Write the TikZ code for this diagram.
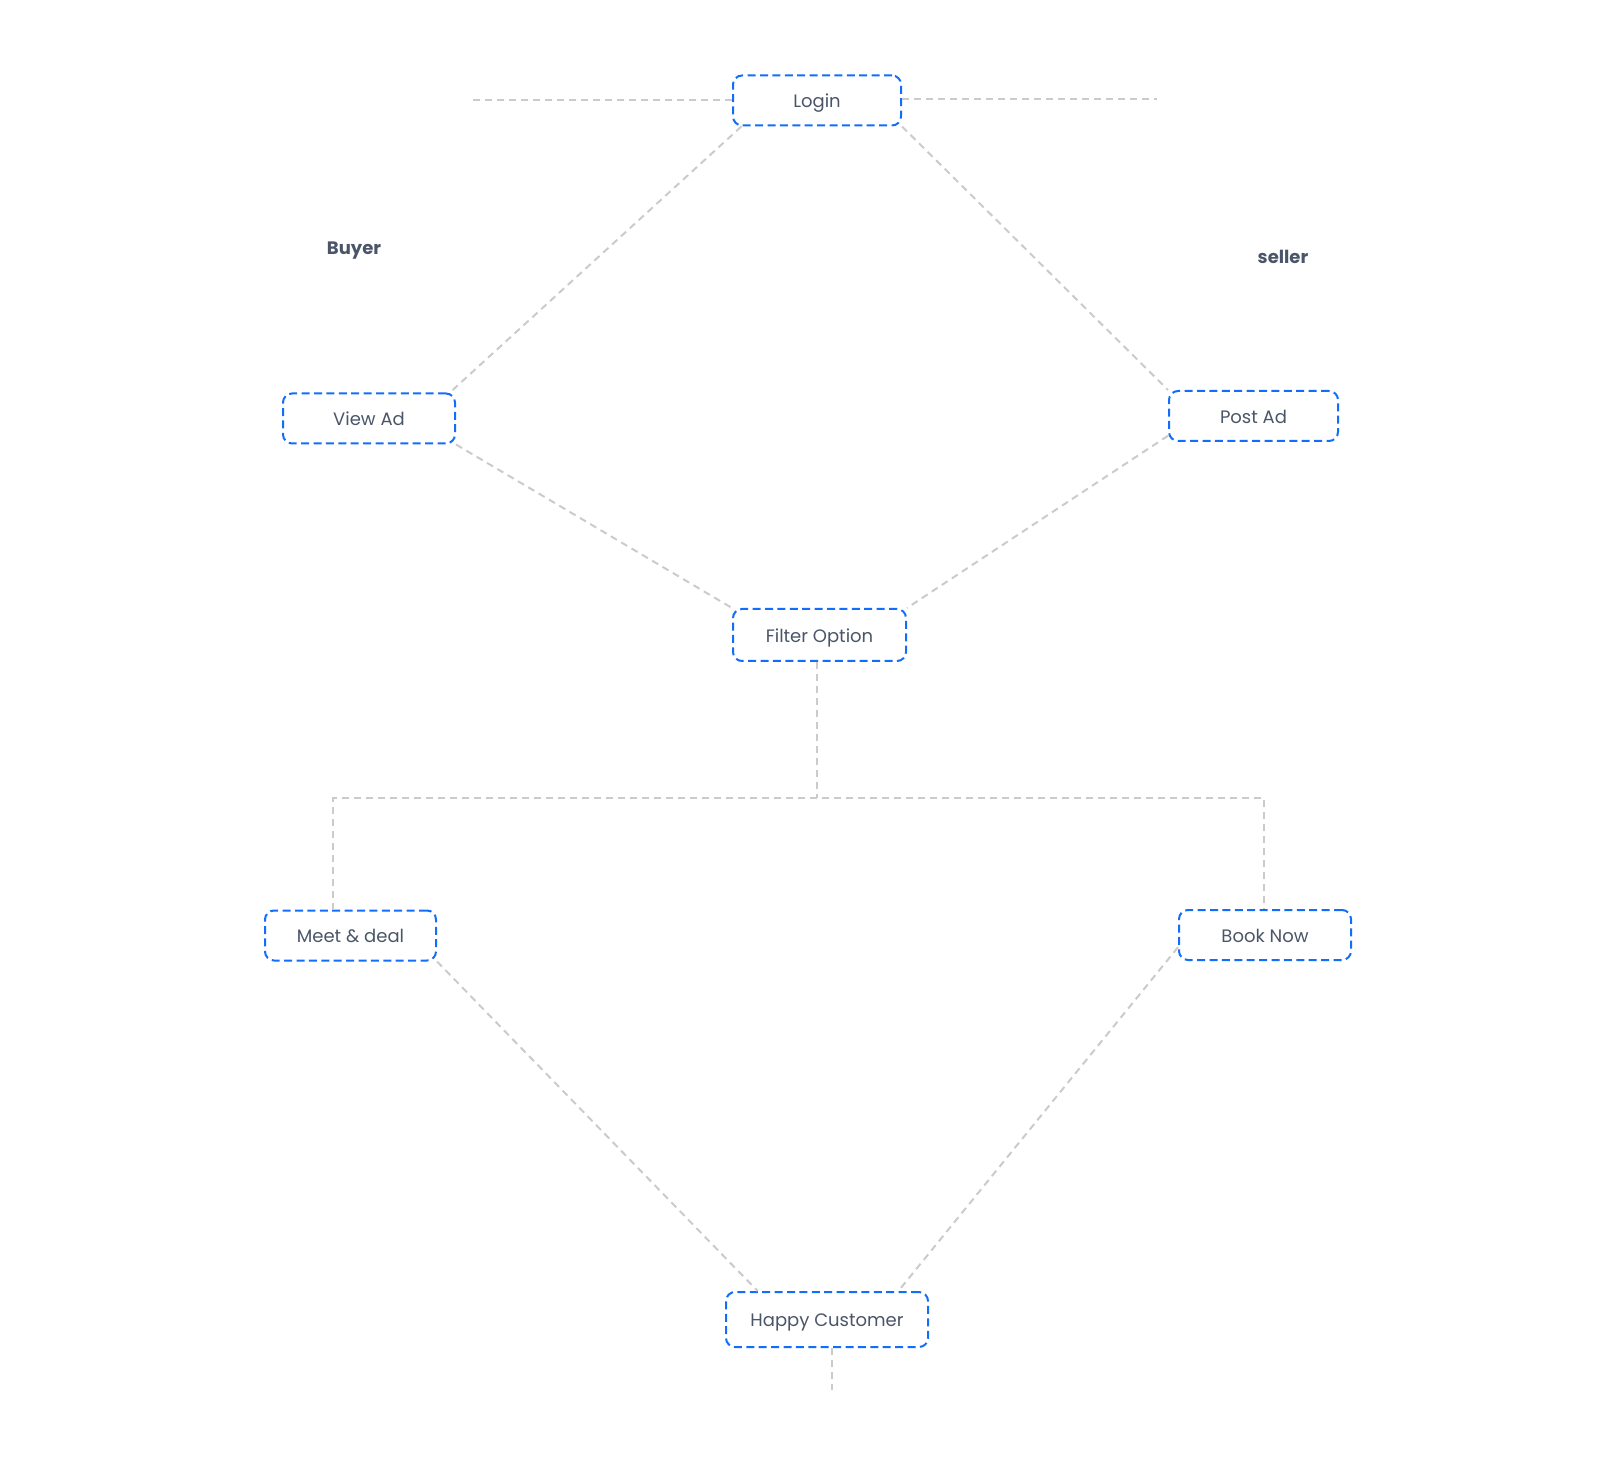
\documentclass[tikz,border=0pt]{standalone}
\usepackage{fontspec}
\setmainfont{Poppins}
\usetikzlibrary{calc}
\definecolor{boxblue}{RGB}{18,110,250}
\definecolor{linegray}{RGB}{206,202,204}
\definecolor{txt}{RGB}{74,85,104}
\tikzset{
  stepbox/.style={draw=boxblue, line width=1pt, dash pattern=on 4pt off 2.2pt,
    rounded corners=4.5pt, text=txt, font=\fontsize{9}{11}\selectfont,
    inner sep=0pt, minimum height=25pt, text height=7.8pt, text depth=0.4pt},
  conn/.style={draw=linegray, line width=1pt, dash pattern=on 3.5pt off 2.5pt},
  role/.style={text=txt, font=\fontsize{9}{11}\selectfont\bfseries}
}
\begin{document}
\begin{tikzpicture}[x=0.5pt,y=-0.5pt]
\useasboundingbox (0,0) rectangle (1600,1475);
% nodes
\node[stepbox, minimum width=84pt] (login) at (817,100.5) {Login};
\node[stepbox, minimum width=86pt] (viewad) at (369,418.5) {View Ad};
\node[stepbox, minimum width=84.5pt] (postad) at (1253.5,416) {Post Ad};
\node[stepbox, minimum width=86.5pt, minimum height=26pt] (filter) at (819.5,635) {Filter Option};
\node[stepbox, minimum width=85.5pt] (meet) at (350.5,935.5) {Meet \& deal};
\node[stepbox, minimum width=86pt] (book) at (1265,935) {Book Now};
\node[stepbox, minimum width=101pt, minimum height=27.5pt] (happy) at (827,1319.5) {Happy Customer};
\node[role] (buyer) at (354,251) {Buyer};
\node[role] (seller) at (1283,257) {seller};
% free ends
\coordinate (ltail) at (473,100);
\coordinate (rtail) at (1157,99);
\coordinate (hub) at (817,798);
\coordinate (lcorner) at (333,798);
\coordinate (rcorner) at (1264,798);
\coordinate (htail) at (832,1390);
% connectors
\draw[conn] (ltail) -- (ltail -| login.west);
\draw[conn] (rtail -| login.east) -- (rtail);
\draw[conn] ($(login.south west)!0.055!(login.south east)$) -- ($(viewad.north west)!0.965!(viewad.north east)$);
\draw[conn] (login.south east) -- (postad.north west);
\draw[conn] (viewad.south east) -- (filter.north west);
\draw[conn] (postad.193) -- (filter.north east);
\draw[conn] (filter.south -| hub) -- (hub);
\draw[conn] (lcorner |- meet.north) -- (lcorner) -- (rcorner) -- (rcorner |- book.north);
\draw[conn] (meet.south east) -- ($(happy.north west)!0.16!(happy.north east)$);
\draw[conn] (book.188) -- ($(happy.north west)!0.85!(happy.north east)$);
\draw[conn] (happy.south -| htail) -- (htail);
\end{tikzpicture}
\end{document}
